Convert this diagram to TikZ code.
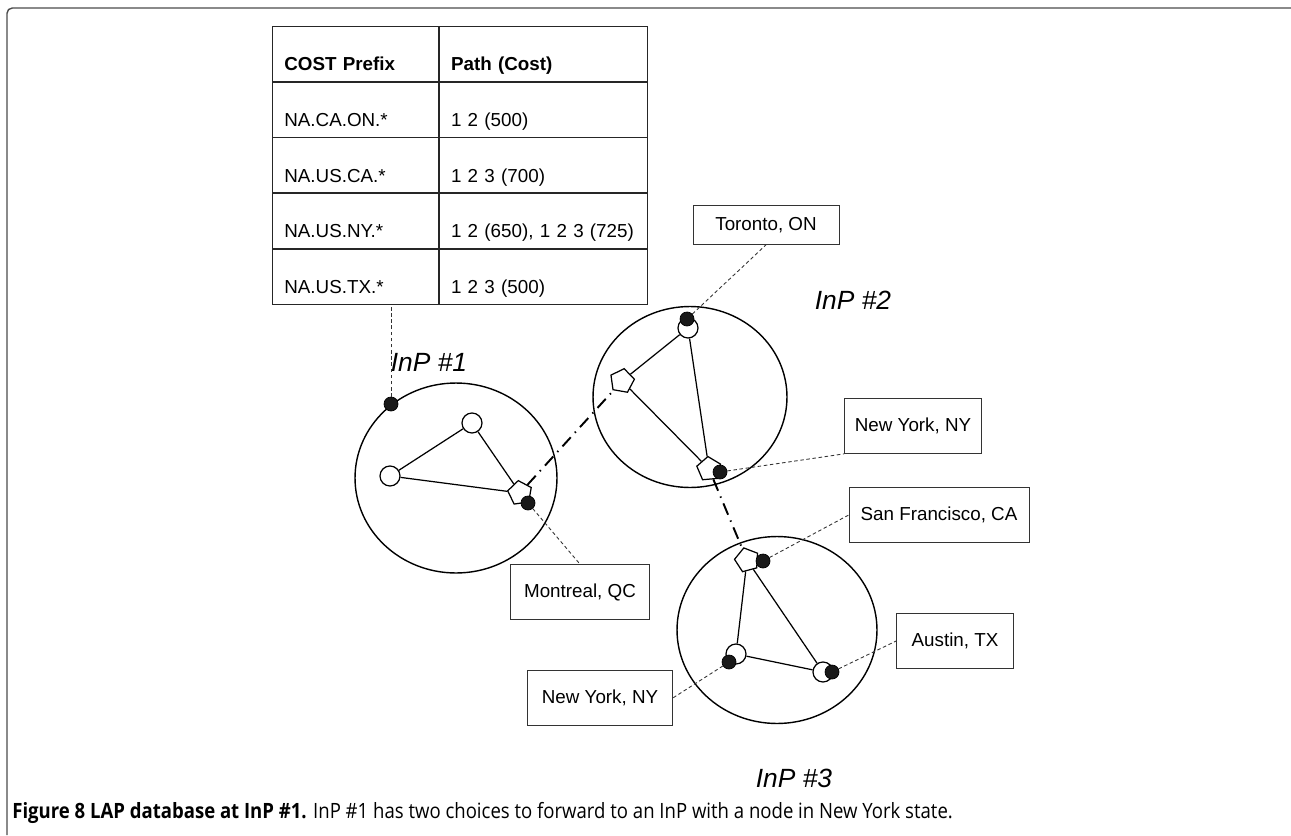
\documentclass[tikz,border=0pt]{standalone}
\usepackage{fontspec}
\setmainfont{Liberation Sans}
\newfontfamily\capfont[FakeStretch=0.88]{Open Sans}
\usepackage{tikz}
\usetikzlibrary{shapes.geometric, arrows.meta, positioning}
\tikzset{
    lap/.style={font=\fontsize{10.7}{13}\selectfont, x=0.02cm, y=-0.02cm},
    lap cell/.style={draw=black!85, thin, inner xsep=0.24cm, inner ysep=0pt,
        text height=0.89cm, text depth=0.21cm, align=left},
    lap key/.style={lap cell, text width=2.84cm},
    lap path/.style={lap cell, text width=3.68cm},
    inp ring/.style={ellipse, draw, line width=0.8pt, inner sep=0pt},
    inp label/.style={font=\fontsize{15}{17}\selectfont\itshape},
    router/.style={circle, draw, fill=white, inner sep=0pt,
        minimum size=0.4cm, line width=0.7pt},
    gateway/.style={regular polygon, regular polygon sides=5, draw, fill=white,
        inner sep=0pt, minimum size=0.5cm, line width=0.7pt},
    site dot/.style={circle, fill=black!90, draw=black, inner sep=0pt,
        minimum size=0.28cm},
    site box/.style={draw=black!80, thin, minimum height=1.1cm, align=center},
    intra link/.style={line width=0.7pt},
    peering/.style={line width=1.1pt,
        dash pattern=on 7pt off 3.5pt on 0.8pt off 3.5pt},
    callout/.style={black!80, line width=0.5pt, dash pattern=on 2pt off 1.5pt},
    frame line/.style={black!70, line width=0.8pt, rounded corners=3pt},
}
\begin{document}
\begin{tikzpicture}[lap]
    \useasboundingbox (0,0) rectangle (1291,835);
    \draw[frame line] (7,835) -- (7,8) -- (1291,8);

    % LAP table
    \node[lap key, anchor=north west] (hK) at (272,26) {\bfseries COST Prefix};
    \node[lap path, right=0pt of hK] (hP) {\bfseries Path (Cost)};
    \node[lap key, below=0pt of hK] (k1) {NA.CA.ON.*};
    \node[lap path, right=0pt of k1] (p1) {1 2 (500)};
    \node[lap key, below=0pt of k1] (k2) {NA.US.CA.*};
    \node[lap path, right=0pt of k2] (p2) {1 2 3 (700)};
    \node[lap key, below=0pt of k2] (k3) {NA.US.NY.*};
    \node[lap path, right=0pt of k3] (p3) {\mbox{1 2 (650), 1 2 3 (725)}};
    \node[lap key, below=0pt of k3] (k4) {NA.US.TX.*};
    \node[lap path, right=0pt of k4] (p4) {1 2 3 (500)};

    % InP rings
    \node[inp ring, minimum width=4.04cm, minimum height=3.8cm] (inp1) at (456,478) {};
    \node[inp ring, minimum width=3.88cm, minimum height=3.62cm] (inp2) at (690,397) {};
    \node[inp ring, minimum width=4.0cm, minimum height=3.74cm] (inp3) at (777,630) {};
    \node[inp label] (lab1) at (429,362) {InP \#1};
    \node[inp label] (lab2) at (853,300) {InP \#2};
    \node[inp label] (lab3) at (794,778) {InP \#3};

    % InP #1
    \node[router] (a1) at (472,423) {};
    \node[router] (a2) at (390,476) {};
    \node[gateway, rotate=8] (a3) at (520,493) {};
    \draw[intra link] (a1) -- (a2);
    \draw[intra link] (a2) -- (a3);
    \draw[intra link] (a1) -- (a3);

    % InP #2
    \node[router] (b1) at (688,328) {};
    \node[gateway, rotate=-10] (b2) at (622,381) {};
    \node[gateway, rotate=5] (b3) at (709,469) {};
    \draw[intra link] (b1) -- (b2);
    \draw[intra link] (b1) -- (b3);
    \draw[intra link] (b2) -- (b3);

    % InP #3
    \node[gateway, rotate=15] (c1) at (747,560) {};
    \node[router] (c2) at (736,654) {};
    \node[router] (c3) at (823,672) {};
    \draw[intra link] (c1) -- (c2);
    \draw[intra link] (c1) -- (c3);
    \draw[intra link] (c2) -- (c3);

    % peering links
    \draw[peering] (a3) -- (b2);
    \draw[peering] (b3) -- (c1);

    % sites
    \node[site dot] (dT) at (391,404) {};
    \node[site dot] (dM) at (528,503) {};
    \node[site dot] (dTo) at (687,319) {};
    \node[site dot] (dNY) at (720,472) {};
    \node[site dot] (dSF) at (763,561) {};
    \node[site dot] (dNY2) at (729,662) {};
    \node[site dot] (dTX) at (832,672) {};

    \node[site box, minimum width=2.92cm, minimum height=0.78cm] (toronto) at (766,225) {Toronto, ON};
    \node[site box, minimum width=2.74cm] (newyork) at (913,426) {New York, NY};
    \node[site box, minimum width=3.6cm] (sanfran) at (939,515) {San Francisco, CA};
    \node[site box, minimum width=2.34cm] (austin) at (955,641) {Austin, TX};
    \node[site box, minimum width=2.9cm] (newyork2) at (600,698) {New York, NY};
    \node[site box, minimum width=2.78cm] (montreal) at (580,592) {Montreal, QC};

    \draw[callout] (dT) -- (dT |- k4.south);
    \draw[callout] (dM) -- (montreal.north);
    \draw[callout] (dTo) -- (toronto.south);
    \draw[callout] (dNY) -- (newyork.south west);
    \draw[callout] (dSF) -- (sanfran.west);
    \draw[callout] (dNY2) -- (newyork2.east);
    \draw[callout] (dTX) -- (austin.west);

    % caption
    \node[anchor=base west, inner sep=0pt, font=\capfont\fontsize{12}{14}\selectfont]
        (caption) at (12,818) {\bfseries Figure 8 LAP database at InP \#1.\mdseries{} InP \#1 has two choices to forward to an InP with a node in New York state.};
\end{tikzpicture}
\end{document}
